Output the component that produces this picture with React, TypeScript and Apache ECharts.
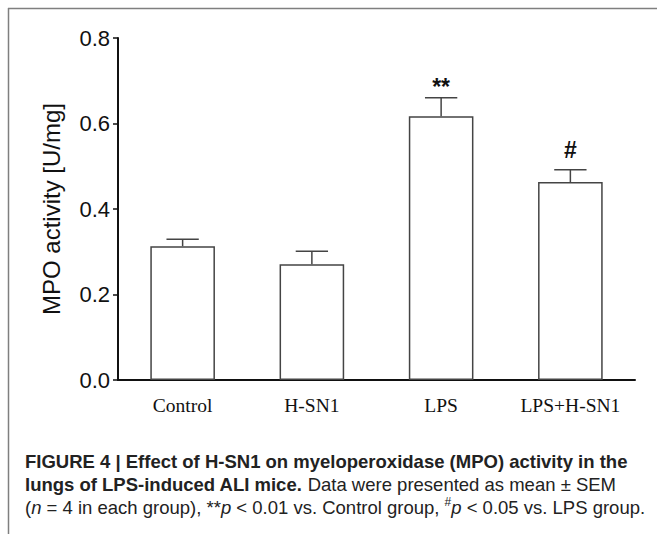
import React, { useEffect, useRef } from "react";
import * as echarts from "echarts";

const categories = ["Control", "H-SN1", "LPS", "LPS+H-SN1"];
const means = [0.313, 0.271, 0.617, 0.463];
const sems = [0.016, 0.03, 0.043, 0.029];
const marks = ["", "", "**", "#"];
const yMin = 0;
const yMax = 0.8;
const yInterval = 0.2;

const captionLines = [
  "{b|FIGURE 4 | Effect of H-SN1 on myeloperoxidase (MPO) activity in the}",
  "{b|lungs of LPS-induced ALI mice.}{r| Data were presented as mean \u00b1 SEM}",
  "{r|(}{i|n}{r| = 4 in each group), **}{i|p}{r| < 0.01 vs. Control group, }{sup|#}{i|p}{r| < 0.05 vs. LPS group.}",
];

const SANS = "'Liberation Sans', Arial, Helvetica, sans-serif";
const SERIF = "'Liberation Serif', 'Times New Roman', serif";

export default function App() {
  const ref = useRef<HTMLDivElement>(null);

  useEffect(() => {
    if (!ref.current) return;
    const chart = echarts.init(ref.current, null, { renderer: "svg" });
    const markLift: Record<string, number> = { "**": 11, "#": 20 };
    const fs = 18.5;

    const option: any = {
      animation: false,
      backgroundColor: "#ffffff",
      grid: { left: 118, right: 22, top: 38, bottom: 154, containLabel: false },
      xAxis: {
        type: "category",
        data: categories,
        boundaryGap: true,
        axisLine: { lineStyle: { color: "#111", width: 2 } },
        axisTick: { alignWithLabel: true, length: 5, lineStyle: { color: "#111", width: 1.5 } },
        axisLabel: { color: "#111", fontFamily: SERIF, fontSize: 19.5, margin: 15, interval: 0 },
        splitLine: { show: false },
      },
      yAxis: {
        type: "value",
        min: yMin,
        max: yMax,
        interval: yInterval,
        name: "MPO activity [U/mg]",
        nameLocation: "middle",
        nameGap: 55,
        nameTextStyle: { color: "#111", fontFamily: SANS, fontSize: 24 },
        axisLine: { show: true, lineStyle: { color: "#111", width: 2 } },
        axisTick: { show: true, length: 5, lineStyle: { color: "#111", width: 1.5 } },
        axisLabel: {
          color: "#111",
          fontFamily: SANS,
          fontSize: 22,
          margin: 8,
          formatter: (v: number) => v.toFixed(1),
        },
        splitLine: { show: false },
      },
      series: [
        {
          type: "bar",
          data: means,
          barWidth: "50%",
          itemStyle: { color: "#ffffff", borderColor: "#444", borderWidth: 1.5 },
          silent: true,
        },
        {
          type: "custom",
          data: categories.map((c, i) => [i, means[i], sems[i]]),
          encode: { x: 0, y: 1 },
          z: 5,
          silent: true,
          renderItem: (params: any, api: any) => {
            const i = api.value(0);
            const m = api.value(1);
            const s = api.value(2);
            const base = api.coord([i, m]);
            const top = api.coord([i, m + s]);
            const half = api.size([1, 0])[0] * 0.125;
            const mark = marks[params.dataIndex];
            const children: any[] = [
              {
                type: "line",
                shape: { x1: base[0], y1: base[1], x2: top[0], y2: top[1] },
                style: { stroke: "#444", lineWidth: 1.5 },
              },
              {
                type: "line",
                shape: { x1: top[0] - half, y1: top[1], x2: top[0] + half, y2: top[1] },
                style: { stroke: "#444", lineWidth: 1.5 },
              },
            ];
            if (mark) {
              children.push({
                type: "text",
                x: top[0],
                y: top[1] - (markLift[mark] ?? 14),
                style: {
                  text: mark,
                  fill: "#111",
                  fontFamily: SANS,
                  fontWeight: "bold",
                  fontSize: 23,
                  align: "center",
                  verticalAlign: "middle",
                },
              });
            }
            return { type: "group", children };
          },
        },
      ],
      graphic: [
        {
          type: "line",
          shape: { x1: 8, y1: 8.5, x2: 657, y2: 8.5 },
          style: { stroke: "#7f7f7f", lineWidth: 1.5 },
          silent: true,
        },
        {
          type: "line",
          shape: { x1: 8.5, y1: 8, x2: 8.5, y2: 534 },
          style: { stroke: "#7f7f7f", lineWidth: 1.5 },
          silent: true,
        },
        {
          type: "text",
          left: 25,
          top: 450,
          silent: true,
          style: {
            text: captionLines.join("\n"),
            fill: "#222",
            fontFamily: SANS,
            fontSize: fs,
            lineHeight: 23,
            rich: {
              b: { fontFamily: SANS, fontSize: fs, fontWeight: "bold", fill: "#222", lineHeight: 23 },
              r: { fontFamily: SANS, fontSize: fs, fill: "#222", lineHeight: 23 },
              i: { fontFamily: SANS, fontSize: fs, fontStyle: "italic", fill: "#222", lineHeight: 23 },
              sup: { fontFamily: SANS, fontSize: 12, fill: "#222", lineHeight: 23, verticalAlign: "top" },
            },
          },
        },
      ],
    };

    chart.setOption(option);
    return () => chart.dispose();
  }, []);

  return (
    <div
      ref={ref}
      style={{ position: "fixed", left: 0, top: 0, width: 657, height: 534, background: "#fff" }}
    />
  );
}
